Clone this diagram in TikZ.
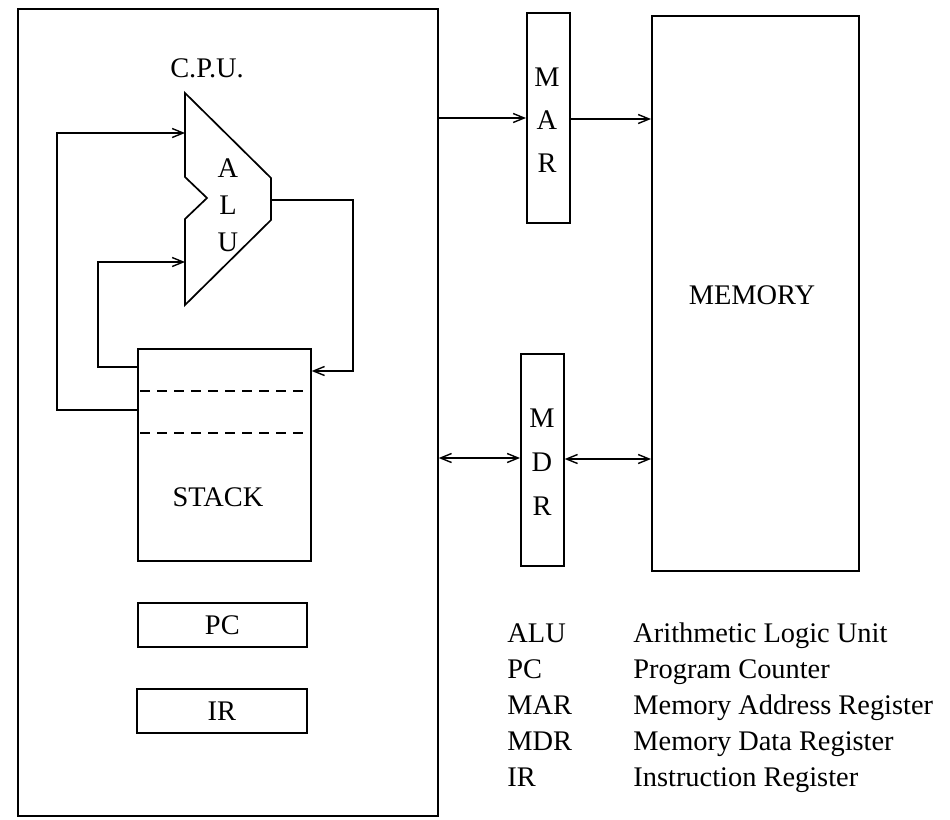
\documentclass[tikz,border=0pt]{standalone}
\usepackage{fontspec}
\setmainfont{Liberation Serif}
\usetikzlibrary{arrows.meta}
\begin{document}
\begin{tikzpicture}[x=0.5pt,y=-0.5pt,
  box/.style={draw,line width=0.85pt,inner sep=0pt,anchor=north west},
  lbl/.style={font=\fontsize{14.2}{17}\selectfont,inner sep=0pt},
  leg/.style={font=\fontsize{14.2}{17}\selectfont,inner sep=0pt,anchor=base west},
  wire/.style={line width=0.7pt},
  tip/.style={wire,-{Straight Barb[length=5.5pt,width=4.5pt]}},
  tips/.style={wire,{Straight Barb[length=5.5pt,width=4.5pt]}-{Straight Barb[length=5.5pt,width=4.5pt]}}]
\useasboundingbox (0,0) rectangle (950,820);
% boxes
\node[box,minimum width=210pt,minimum height=403.5pt] (cpu) at (17,8) {};
\node[box,minimum width=86.5pt,minimum height=106pt] (stack) at (137,348) {};
\node[box,minimum width=84.5pt,minimum height=22pt] (pc) at (137,602) {};
\node[box,minimum width=85pt,minimum height=22pt] (ir) at (136,688) {};
\node[box,minimum width=21.5pt,minimum height=105pt] (mar) at (526,12) {};
\node[box,minimum width=21.5pt,minimum height=106pt] (mdr) at (520,353) {};
\node[box,minimum width=103.5pt,minimum height=277.5pt] (mem) at (651,15) {};
% ALU
\draw[line width=0.85pt] (185,93) coordinate (alutop) -- (271,178) -- (271,220)
  -- (185,305) -- (185,219) -- (207,198) -- (185,177) -- cycle;
\coordinate (aluin1) at (185,133);
\coordinate (aluin2) at (185,262);
\coordinate (aluout) at (271,200);
% labels
\node[lbl] (cpul) at (207,68) {C.P.U.};
\node[lbl] (a1) at (228,168) {A};
\node[lbl] (a2) at (228,205) {L};
\node[lbl] (a3) at (228,242) {U};
\node[lbl] (stackl) at (218,497) {STACK};
\node[lbl] (pcl) at (pc.center) {PC};
\node[lbl] (irl) at (ir.center) {IR};
\node[lbl] (m1) at (547,77) {M};
\node[lbl] (m2) at (547,120) {A};
\node[lbl] (m3) at (547,163) {R};
\node[lbl] (d1) at (542,418) {M};
\node[lbl] (d2) at (542,462) {D};
\node[lbl] (d3) at (542,506) {R};
\node[lbl] (meml) at (752,295) {MEMORY};
% stack dashed lines
\coordinate (dl1) at (140,391);
\coordinate (dr1) at (303,391);
\coordinate (dl2) at (140,433);
\coordinate (dr2) at (303,433);
\draw[line width=0.6pt,dash pattern=on 5pt off 3.5pt] (dl1) -- (dr1);
\draw[line width=0.6pt,dash pattern=on 5pt off 3.5pt] (dl2) -- (dr2);
% ALU loops
\draw[tip] (stack.west |- 0,410) -| (57,133) -- (aluin1);
\draw[tip] (stack.west |- 0,367) -| (98,262) -- (aluin2);
\draw[tip] (aluout) -| (353,371) -- (stack.east |- 0,371);
% buses
\draw[tip] (cpu.east |- 0,118) -- (mar.west |- 0,118);
\draw[tip] (mar.east |- 0,119) -- (mem.west |- 0,119);
\draw[tips] (cpu.east |- 0,458) -- (mdr.west |- 0,458);
\draw[tips] (mdr.east |- 0,459) -- (mem.west |- 0,459);
% legend
\foreach \ab/\tx/\yy [count=\i] in {ALU/Arithmetic Logic Unit/642, PC/Program Counter/678, MAR/Memory Address Register/714, MDR/Memory Data Register/750, IR/Instruction Register/786}{
  \node[leg] (ab\i) at (507,\yy) {\ab};
  \node[leg] (tx\i) at (633,\yy) {\tx};
}
\end{tikzpicture}
\end{document}
